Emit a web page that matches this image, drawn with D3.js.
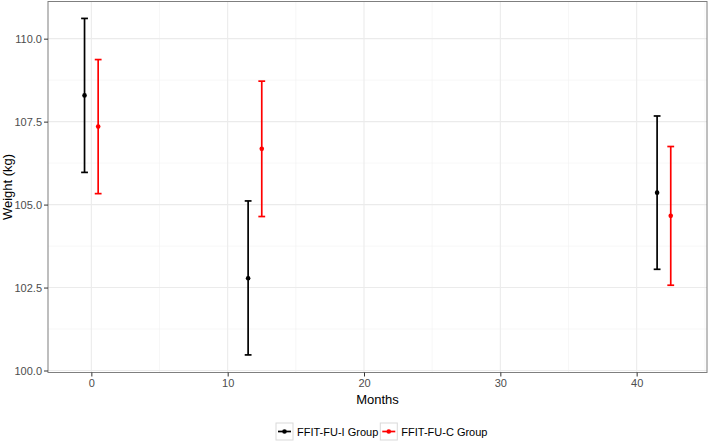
<!DOCTYPE html>
<html>
<head>
<meta charset="utf-8">
<script src="https://cdn.jsdelivr.net/npm/d3@7"></script>
<style>
  body { margin: 0; background: #fff; }
  svg { display: block; font-family: 'Liberation Sans', Arial, sans-serif; }
  .axis path { display: none; }
  .axis line { stroke: #333; }
  .axis text { fill: #4d4d4d; font-size: 11px; }
</style>
</head>
<body>
<div id="chart"></div>
<script>
// follow-up months and group names
const months = [0, 12, 42];
const groupNames = ['FFIT-FU-I Group', 'FFIT-FU-C Group'];
const groupColors = ['#000000', '#ff0000'];

// intervention group: mean and error bar ends (kg)
const iMean = [108.29, 102.78, 105.36];
const iLower = [105.97, 100.47, 103.05];
const iUpper = [110.61, 105.11, 107.67];

// comparison group
const cMean = [107.35, 106.68, 104.66];
const cLower = [105.33, 104.64, 102.57];
const cUpper = [109.37, 108.72, 106.75];

const xTicks = [0, 10, 20, 30, 40];
const xMinor = [5, 15, 25, 35, 45];
const yTicks = [100, 102.5, 105, 107.5, 110];
const yMinor = [101.25, 103.75, 106.25, 108.75];

const width = 709, height = 442;
const margin = { top: 1.5, right: 2, bottom: 69.5, left: 48 };
const pw = width - margin.left - margin.right;
const ph = height - margin.top - margin.bottom;
const dodge = 0.5;

const groups = [
  { name: groupNames[0], color: groupColors[0], off: -dodge, mean: iMean, lo: iLower, hi: iUpper },
  { name: groupNames[1], color: groupColors[1], off: dodge, mean: cMean, lo: cLower, hi: cUpper }
];

const svg = d3.select('#chart').append('svg')
  .attr('width', width)
  .attr('height', height);

const x = d3.scaleLinear().domain([-3.18, 45.16]).range([0, pw]);
const y = d3.scaleLinear().domain([99.94, 111.12]).range([ph, 0]);

const g = svg.append('g')
  .attr('transform', 'translate(' + margin.left + ',' + margin.top + ')');

// grid
g.append('g').selectAll('line.ym').data(yMinor).enter().append('line')
  .attr('x1', 0).attr('x2', pw)
  .attr('y1', d => y(d)).attr('y2', d => y(d))
  .attr('stroke', '#f2f2f2').attr('stroke-width', 0.6);
g.append('g').selectAll('line.xm').data(xMinor.filter(d => d <= x.domain()[1])).enter().append('line')
  .attr('y1', 0).attr('y2', ph)
  .attr('x1', d => x(d)).attr('x2', d => x(d))
  .attr('stroke', '#f2f2f2').attr('stroke-width', 0.6);
g.append('g').selectAll('line.y').data(yTicks).enter().append('line')
  .attr('x1', 0).attr('x2', pw)
  .attr('y1', d => y(d)).attr('y2', d => y(d))
  .attr('stroke', '#ebebeb').attr('stroke-width', 1.1);
g.append('g').selectAll('line.x').data(xTicks).enter().append('line')
  .attr('y1', 0).attr('y2', ph)
  .attr('x1', d => x(d)).attr('x2', d => x(d))
  .attr('stroke', '#ebebeb').attr('stroke-width', 1.1);

// error bars and points
const capW = 0.25;
groups.forEach(function(grp) {
  const layer = g.append('g');
  months.forEach(function(m, i) {
    const cx = x(m + grp.off);
    layer.append('line')
      .attr('x1', cx).attr('x2', cx)
      .attr('y1', y(grp.lo[i])).attr('y2', y(grp.hi[i]))
      .attr('stroke', grp.color).attr('stroke-width', 1.7);
    [grp.lo[i], grp.hi[i]].forEach(function(v) {
      layer.append('line')
        .attr('x1', x(m + grp.off - capW)).attr('x2', x(m + grp.off + capW))
        .attr('y1', y(v)).attr('y2', y(v))
        .attr('stroke', grp.color).attr('stroke-width', 1.7);
    });
    layer.append('circle')
      .attr('cx', cx).attr('cy', y(grp.mean[i]))
      .attr('r', 2.3)
      .attr('fill', grp.color);
  });
});

// panel border
g.append('rect')
  .attr('width', pw).attr('height', ph)
  .attr('fill', 'none').attr('stroke', '#7f7f7f').attr('stroke-width', 1);

// axes
g.append('g').attr('class', 'axis')
  .attr('transform', 'translate(0,' + ph + ')')
  .call(d3.axisBottom(x).tickValues(xTicks).tickSize(4).tickPadding(3).tickFormat(d3.format('d')));
g.append('g').attr('class', 'axis')
  .call(d3.axisLeft(y).tickValues(yTicks).tickSize(4).tickPadding(2).tickFormat(d3.format('.1f')));

// axis titles
svg.append('text')
  .attr('x', margin.left + pw / 2).attr('y', 404)
  .attr('text-anchor', 'middle')
  .attr('font-size', 13).attr('fill', '#000')
  .text('Months');
svg.append('text')
  .attr('transform', 'translate(12,' + (margin.top + ph / 2) + ') rotate(-90)')
  .attr('text-anchor', 'middle')
  .attr('font-size', 13).attr('fill', '#000')
  .text('Weight (kg)');

// legend
const legend = svg.append('g').attr('transform', 'translate(276,423)');
let lx = 0;
groups.forEach(function(grp) {
  const item = legend.append('g').attr('transform', 'translate(' + lx + ',0)');
  item.append('rect')
    .attr('width', 17).attr('height', 17)
    .attr('fill', '#fff').attr('stroke', '#d9d9d9');
  item.append('line')
    .attr('x1', 2).attr('x2', 15).attr('y1', 8.5).attr('y2', 8.5)
    .attr('stroke', grp.color).attr('stroke-width', 1.7);
  item.append('circle')
    .attr('cx', 8.5).attr('cy', 8.5).attr('r', 2.3).attr('fill', grp.color);
  const t = item.append('text')
    .attr('x', 21).attr('y', 12.5)
    .attr('font-size', 11).attr('fill', '#000')
    .text(grp.name);
  lx += 21 + t.node().getComputedTextLength() + 2;
});
</script>
</body>
</html>
